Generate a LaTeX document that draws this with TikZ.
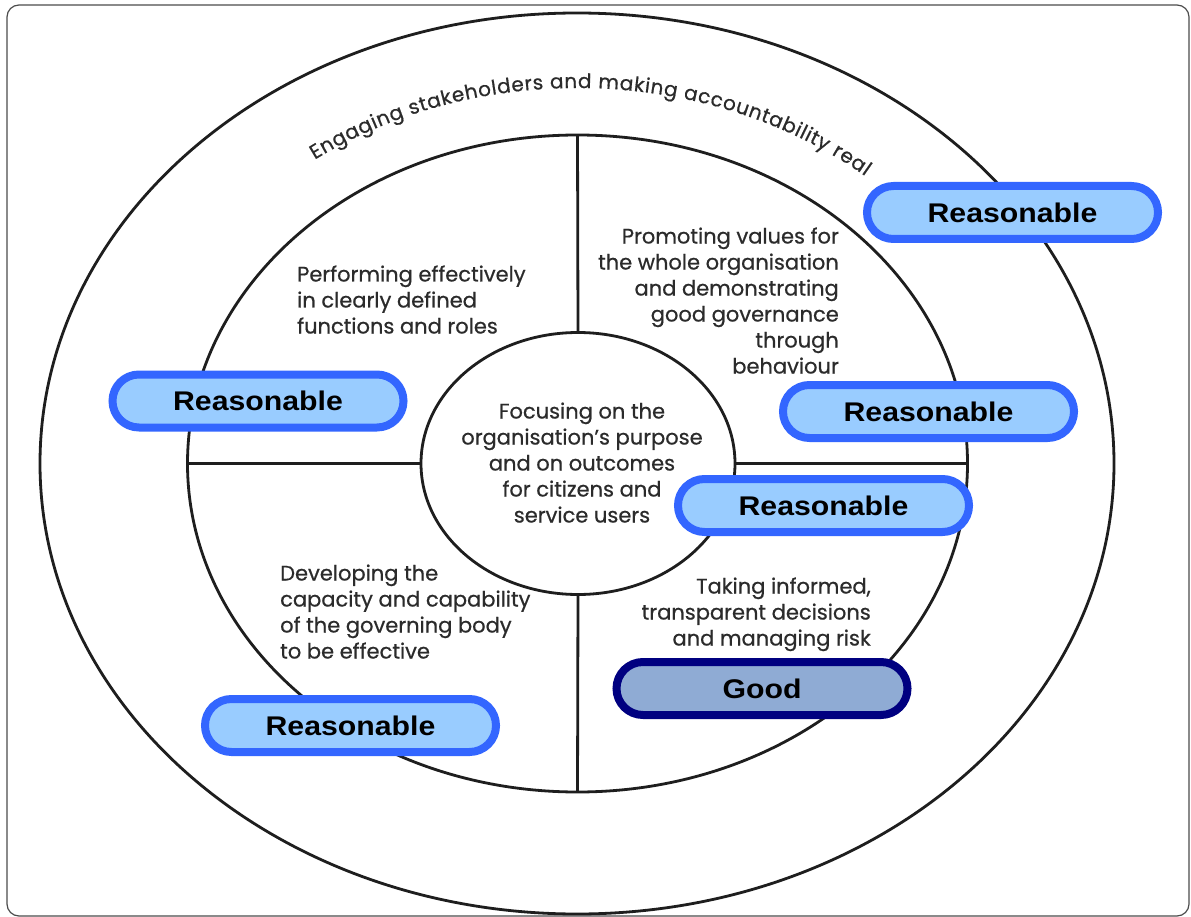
\documentclass[tikz,border=0pt]{standalone}
\usepackage{fontspec}
\setmainfont{Poppins}[FakeBold=0.6]
\newfontfamily\gradefont{Liberation Sans}[FakeStretch=1.12]
\usetikzlibrary{shapes.geometric,decorations.text}

\definecolor{ink}{HTML}{2B2B2B}
\definecolor{rim}{HTML}{1E1E1E}
\definecolor{okfill}{HTML}{99CCFF}
\definecolor{okline}{HTML}{3366FF}
\definecolor{goodfill}{HTML}{8FABD4}
\definecolor{goodline}{HTML}{000080}

\newcommand{\bodyfont}{\fontsize{21}{26}\selectfont}
\newcommand{\ringfont}{\fontsize{20}{24}\selectfont\color{ink}}

\begin{document}
\begin{tikzpicture}[x=1pt,y=-1pt,
  ring node/.style={ellipse,draw=rim,line width=2.8pt,inner sep=0pt,outer sep=0pt},
  label node/.style={font=\bodyfont,text=ink,inner sep=0pt},
  grade node/.style={rectangle,rounded corners=26.5pt,line width=8pt,draw=okline,fill=okfill,
    minimum width=291pt,minimum height=53pt,inner sep=0pt,
    font=\gradefont\bfseries\fontsize{27}{30}\selectfont},
  good node/.style={grade node,draw=goodline,fill=goodfill}]

  \fill[white] (0,0) rectangle (1191,917);
  \useasboundingbox (0,0) rectangle (1191,917);
  \draw[gray!60!black,line width=1.2pt,rounded corners=12pt] (7,5) rectangle (1189,916);

  \node[ring node,minimum width=1074pt,minimum height=901pt] (outer) at (577,463.5) {};
  \node[ring node,minimum width=780pt,minimum height=657pt] (inner) at (577.5,463.5) {};
  \node[ring node,minimum width=314pt,minimum height=262pt] (core) at (578,463.5) {};

  \draw[rim,line width=2.8pt]
    (inner.north) -- (core.north)
    (core.south) -- (inner.south)
    (inner.west) -- (core.west)
    (core.east) -- (inner.east);

  \path[decorate,decoration={text along path,text align={fit to path},
      text={|\ringfont|Engaging stakeholders and making accountability real}}]
    (577.5,463.5) ++(-126:447 and 375.5)
    arc[start angle=-126,end angle=-50,x radius=447,y radius=375.5];

  \node[label node,anchor=base west,align=left] (perform) at (297,333.5)
    {Performing effectively\\in clearly defined\\functions and roles};
  \node[label node,anchor=base east,align=right] (promote) at (839,373.5)
    {Promoting values for\\the whole organisation\\and demonstrating\\good governance\\through\\behaviour};
  \node[label node,anchor=base,align=center] (focus) at (582,522.5)
    {Focusing on the\\organisation’s purpose\\and on outcomes\\for citizens and\\service users};
  \node[label node,anchor=base west,align=left] (develop) at (280,658.5)
    {Developing the\\capacity and capability\\of the governing body\\to be effective};
  \node[label node,anchor=base east,align=right] (decide) at (871,645.5)
    {Taking informed,\\transparent decisions\\and managing risk};

  \node[grade node] (g1) at (1012.5,212.5) {Reasonable};
  \node[grade node] (g2) at (258,401) {Reasonable};
  \node[grade node] (g3) at (928.5,411.5) {Reasonable};
  \node[grade node] (g4) at (823.5,505.5) {Reasonable};
  \node[grade node] (g5) at (350.5,725.5) {Reasonable};
  \node[good node] (g6) at (762,688.5) {Good};
\end{tikzpicture}
\end{document}
